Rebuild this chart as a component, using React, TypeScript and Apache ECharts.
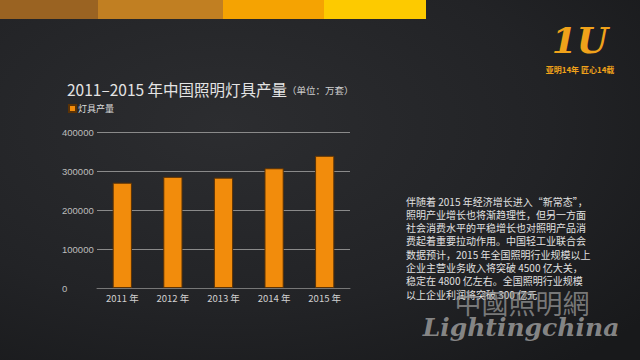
import React, { useEffect, useRef } from "react";
import * as echarts from "echarts";

const categories = ["2011 年", "2012 年", "2013 年", "2014 年", "2015 年"];
const production = [270000, 285000, 283000, 307000, 339000];
const yTicks = [0, 100000, 200000, 300000, 400000];
const seriesName = "灯具产量";
const titleMain = "2011–2015 年中国照明灯具产量";
const titleUnit = "（单位：万套）";
const paragraph = [
  "伴随着 2015 年经济增长进入“新常态”，",
  "照明产业增长也将渐趋理性，但另一方面",
  "社会消费水平的平稳增长也对照明产品消",
  "费起着重要拉动作用。中国轻工业联合会",
  "数据预计，2015 年全国照明行业规模以上",
  "企业主营业务收入将突破 4500 亿大关，",
  "稳定在 4800 亿左右。全国照明行业规模",
  "以上企业利润将突破 300 亿元",
];
const topStripes = ["#9a6322", "#c17f22", "#f5a302", "#fdca00"];

export default function App() {
  const ref = useRef<HTMLDivElement>(null);
  useEffect(() => {
    if (!ref.current) return;
    const chart = echarts.init(ref.current, null, { renderer: "svg" });
    const stripeX = [0, 98, 223, 324, 426];
    const graphics: any[] = topStripes.map((c, i) => ({
      type: "rect",
      shape: { x: stripeX[i], y: 0, width: stripeX[i + 1] - stripeX[i], height: 19 },
      style: { fill: c },
      silent: true,
    }));
    paragraph.forEach((line, i) => {
      graphics.push({
        type: "text",
        x: 406,
        y: 201 + i * 13.3,
        style: {
          text: line,
          fill: "#e0e0e0",
          font: '10px "Noto Sans CJK SC", sans-serif',
          textVerticalAlign: "middle",
        },
        silent: true,
      });
    });
    graphics.push({
      type: "text",
      x: 522,
      y: 302,
      style: {
        text: "中國照明網",
        fill: "rgba(150,150,150,0.75)",
        font: '27px "Noto Sans CJK TC", sans-serif',
        textAlign: "center",
        textVerticalAlign: "middle",
      },
      silent: true,
    });
    graphics.push({
      type: "text",
      x: 521,
      y: 327,
      style: {
        text: "Lightingchina",
        fill: "rgba(140,140,140,0.95)",
        font: 'italic bold 25px "DejaVu Serif", serif',
        textAlign: "center",
        textVerticalAlign: "middle",
      },
      silent: true,
    });
    graphics.push({
      type: "text",
      x: 580,
      y: 40,
      style: {
        text: "1U",
        fill: "#f0a21a",
        font: 'italic bold 36px "DejaVu Serif", serif',
        textAlign: "center",
        textVerticalAlign: "middle",
      },
      silent: true,
    });
    graphics.push({
      type: "text",
      x: 580,
      y: 69,
      style: {
        text: "亚明14年 匠心14载",
        fill: "#f0a21a",
        font: 'bold 8px "Noto Sans CJK SC", sans-serif',
        textAlign: "center",
        textVerticalAlign: "middle",
      },
      silent: true,
    });

    chart.setOption({
      animation: false,
      backgroundColor: new echarts.graphic.RadialGradient(0.35, 0.35, 0.85, [
        { offset: 0, color: "#2c2d30" },
        { offset: 0.6, color: "#222326" },
        { offset: 1, color: "#18191b" },
      ]),
      title: {
        left: 62,
        top: 76,
        text: `{a|${titleMain}}{b|${titleUnit}}`,
        textStyle: {
          rich: {
            a: { fontSize: 15.5, fontWeight: "normal", color: "#e4e4e4", fontFamily: '"Noto Sans CJK SC", sans-serif' },
            b: { fontSize: 9.5, fontWeight: "normal", color: "#cfcfcf", fontFamily: '"Noto Sans CJK SC", sans-serif', padding: [3, 0, 0, 0] },
          },
        },
      },
      legend: {
        left: 63,
        top: 99,
        itemWidth: 7,
        itemHeight: 7,
        itemGap: 4,
        icon: "rect",
        textStyle: { color: "#dcdcdc", fontSize: 9, fontFamily: '"Noto Sans CJK SC", sans-serif', padding: [0, 0, 0, -3] },
        data: [seriesName],
      },
      grid: { left: 97, right: 290, top: 132, bottom: 72 },
      xAxis: {
        type: "category",
        data: categories,
        axisLine: { lineStyle: { color: "#777", width: 1 } },
        axisTick: { show: false },
        axisLabel: { color: "#d0d0d0", fontSize: 9.5, margin: 5, fontFamily: '"Noto Sans CJK SC", sans-serif' },
      },
      yAxis: {
        type: "value",
        min: 0,
        max: 400000,
        interval: 100000,
        axisLine: { show: false },
        axisTick: { show: false },
        axisLabel: {
          color: "#bdbdbd",
          fontSize: 9.5,
          align: "left",
          margin: 35,
          fontFamily: "Arial, Liberation Sans, sans-serif",
          formatter: (v: number) => (yTicks.includes(v) ? String(v) : ""),
        },
        splitLine: { lineStyle: { color: "#8a8a8a", width: 1 } },
      },
      series: [
        {
          name: seriesName,
          type: "bar",
          data: production,
          barWidth: "38%",
          itemStyle: { color: "#f28c0c", borderColor: "#5a3206", borderWidth: 1 },
        },
      ],
      graphic: graphics,
    });
    return () => chart.dispose();
  }, []);
  return (
    <div
      ref={ref}
      style={{ position: "absolute", left: 0, top: 0, width: 640, height: 360 }}
    />
  );
}
